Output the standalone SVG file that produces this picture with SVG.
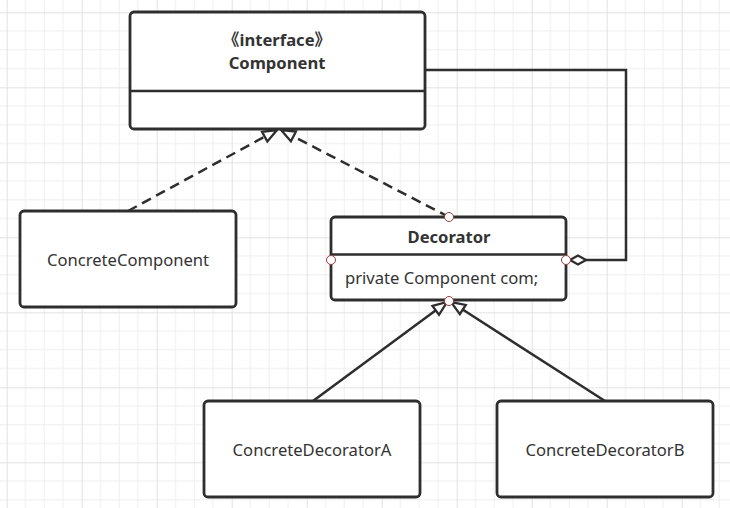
<svg xmlns="http://www.w3.org/2000/svg" width="730" height="508" viewBox="0 0 730 508">
  <defs>
    <pattern id="grid" width="75" height="75" patternUnits="userSpaceOnUse" patternTransform="translate(6.7,12.3)">
      <path d="M18.75,0 V75 M37.5,0 V75 M56.25,0 V75 M0,18.75 H75 M0,37.5 H75 M0,56.25 H75" stroke="#eeeeee" stroke-width="1" fill="none"/>
      <path d="M0.5,0 V75 M0,0.5 H75" stroke="#e2e2e2" stroke-width="1" fill="none"/>
    </pattern>
    <marker id="tri" markerWidth="20" markerHeight="16" refX="16" refY="7" orient="auto" markerUnits="userSpaceOnUse" viewBox="0 0 20 16">
      <path d="M2,1.5 L16,7 L2,12.5 z" fill="#ffffff" stroke="#2e2e2e" stroke-width="2.3" stroke-linejoin="miter"/>
    </marker>
    <marker id="diamond" markerWidth="20" markerHeight="14" refX="1" refY="6" orient="auto" markerUnits="userSpaceOnUse" viewBox="0 0 20 14">
      <path d="M1,6 L9,1.5 L17,6 L9,10.5 z" fill="#ffffff" stroke="#2e2e2e" stroke-width="2.3"/>
    </marker>
  </defs>
  <style>
    .box { fill: #ffffff; stroke: #2e2e2e; stroke-width: 2.8; }
    .div { stroke: #2e2e2e; stroke-width: 2.5; fill: none; }
    .t { font-family: "Noto Sans", "Open Sans", "Noto Sans CJK SC", sans-serif; font-size: 16.6px; fill: #333333; }
    .b { font-weight: bold; }
    .c { text-anchor: middle; }
    .ln { fill: none; stroke: #2e2e2e; stroke-width: 2.5; }
    .dash { stroke-dasharray: 10 6; }
    .pt { fill: #ffffff; stroke: #9a3b3b; stroke-width: 1; }
  </style>
  <rect width="730" height="508" fill="#ffffff"/>
  <rect width="730" height="508" fill="url(#grid)"/>

  <g id="connectors">
    <path class="ln dash" d="M128,211 L277,130" marker-end="url(#tri)"/>
    <path class="ln dash" d="M449,217 L281,130" marker-end="url(#tri)"/>
    <path class="ln" d="M313,401 L447,302" marker-end="url(#tri)"/>
    <path class="ln" d="M605,401 L451,302" marker-end="url(#tri)"/>
    <path class="ln" d="M570,260 L626,260 L626,70 L426,70" marker-start="url(#diamond)"/>
  </g>

  <g id="component">
    <rect class="box" x="130" y="12" width="295" height="117" rx="4"/>
    <line class="div" x1="130" y1="91" x2="425" y2="91"/>
    <text class="t b c" x="277" y="45.5" font-size="15.5">《interface》</text>
    <text class="t b c" x="277" y="68.5">Component</text>
  </g>

  <g id="concreteComponent">
    <rect class="box" x="20" y="211" width="216" height="96" rx="4"/>
    <text class="t c" x="128" y="266">ConcreteComponent</text>
  </g>

  <g id="decorator">
    <rect class="box" x="331" y="217" width="235" height="83" rx="4"/>
    <line class="div" x1="331" y1="254.5" x2="566" y2="254.5"/>
    <text class="t b c" x="449" y="243">Decorator</text>
    <text class="t" x="345" y="284">private Component com;</text>
    <circle class="pt" cx="449" cy="217" r="4.5"/>
    <circle class="pt" cx="331" cy="260" r="4.5"/>
    <circle class="pt" cx="566" cy="260" r="4.5"/>
    <circle class="pt" cx="449" cy="301" r="4.5"/>
  </g>

  <g id="concreteDecoratorA">
    <rect class="box" x="204" y="401" width="216" height="96" rx="4"/>
    <text class="t c" x="312" y="456">ConcreteDecoratorA</text>
  </g>

  <g id="concreteDecoratorB">
    <rect class="box" x="497" y="401" width="216" height="96" rx="4"/>
    <text class="t c" x="605" y="456">ConcreteDecoratorB</text>
  </g>
</svg>
